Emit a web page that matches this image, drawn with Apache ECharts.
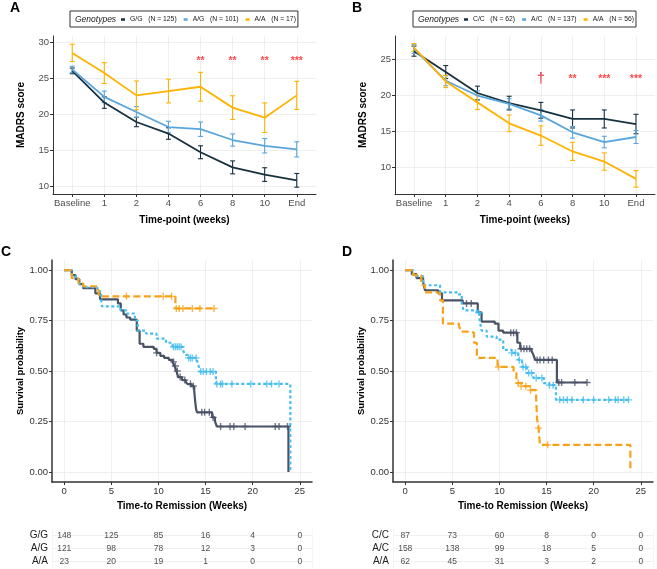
<!DOCTYPE html>
<html>
<head>
<meta charset="utf-8">
<script src="https://cdn.jsdelivr.net/npm/echarts@6/dist/echarts.min.js"></script>
<style>
  html, body { margin: 0; padding: 0; background: #fff; }
  #main { width: 657px; height: 569px; }
</style>
</head>
<body>
<div id="main"></div>
<script>
const FONT = '"Liberation Sans", Arial, sans-serif';

// ---------- A / B : MADRS score by time-point ----------
const timeLabels = ['Baseline', '1', '2', '4', '6', '8', '10', 'End'];

// panel A (G/G, A/G, A/A)
const aGG   = [26.0, 21.6, 18.9, 17.3, 14.7, 12.6, 11.6, 10.8];
const aGGse = [0.4, 0.8, 0.65, 0.8, 0.9, 0.9, 0.95, 0.95];
const aAG   = [26.2, 22.4, 20.3, 18.2, 17.9, 16.4, 15.6, 15.1];
const aAGse = [0.45, 0.8, 0.75, 0.8, 1.0, 0.85, 1.0, 1.05];
const aAA   = [28.5, 25.7, 22.6, 23.2, 23.8, 20.9, 19.5, 22.6];
const aAAse = [1.2, 1.45, 2.0, 1.65, 2.0, 1.65, 2.05, 1.95];
const sigA  = ['', '', '', '', '**', '**', '**', '***'];

// panel B (C/C, A/C, A/A)
const bCC   = [26.1, 23.2, 20.3, 18.9, 17.9, 16.7, 16.7, 16.0];
const bCCse = [0.7, 0.9, 0.95, 0.95, 1.1, 1.25, 1.25, 1.35];
const bAC   = [26.4, 22.0, 19.95, 18.8, 17.2, 14.85, 13.5, 14.2];
const bACse = [0.6, 0.7, 0.65, 0.7, 0.8, 0.8, 0.8, 0.9];
const bAA   = [26.6, 21.9, 19.0, 16.1, 14.4, 12.2, 10.8, 8.4];
const bAAse = [0.55, 0.85, 1.0, 1.15, 1.35, 1.25, 1.2, 1.15];
const sigB  = ['', '', '', '', '\u2020', '**', '***', '***'];

const namesA = ['G/G   (N = 125)', 'A/G   (N = 101)', 'A/A   (N = 17)'];
const namesB = ['C/C   (N = 62)', 'A/C   (N = 137)', 'A/A   (N = 56)'];

// ---------- C / D : Kaplan-Meier, time to remission ----------
const weekTicks = [0, 5, 10, 15, 20, 25];
const survTicks = [0, 0.25, 0.5, 0.75, 1];

// steps: [week, survival after the event]
const cGG = [[0,1],[0.8,0.975],[1.2,0.955],[1.6,0.93],[2.0,0.91],[3.3,0.885],[3.8,0.855],[5.7,0.835],
  [6.0,0.80],[6.3,0.78],[6.6,0.765],[7.0,0.755],[7.7,0.70],[8.0,0.635],[8.4,0.62],[9.5,0.61],[9.8,0.59],
  [10.2,0.575],[10.6,0.565],[11.1,0.555],[11.5,0.545],[11.7,0.525],[11.9,0.50],[12.1,0.47],[12.5,0.455],
  [12.9,0.445],[13.1,0.435],[13.5,0.425],[13.8,0.40],[13.9,0.35],[14.0,0.31],[14.1,0.295],[15.7,0.27],
  [16.0,0.25],[16.2,0.225],[23.8,0]];
const cGGcens = [[9.8,0.59],[11.6,0.545],[11.8,0.525],[12.0,0.50],[12.3,0.47],[12.8,0.455],[13.4,0.435],
  [13.7,0.425],[14.6,0.295],[14.9,0.295],[15.4,0.295],[15.8,0.27],[16.6,0.225],[17.6,0.225],[18.0,0.225],
  [19.2,0.225],[22.4,0.225],[22.8,0.225],[23.7,0.225]];
const cAG = [[0,1],[0.8,0.975],[1.2,0.955],[1.6,0.93],[2.0,0.915],[3.5,0.895],[3.9,0.86],[4.0,0.82],
  [6.0,0.80],[6.6,0.785],[7.5,0.75],[7.8,0.70],[8.7,0.685],[9.8,0.66],[10.8,0.64],[11.5,0.62],
  [12.6,0.605],[12.8,0.58],[13.1,0.565],[14.1,0.55],[14.3,0.52],[14.4,0.497],[16.1,0.436],[24.0,0]];
const cAGcens = [[11.6,0.62],[11.8,0.62],[12.0,0.62],[12.2,0.62],[12.4,0.62],[13.2,0.565],[13.4,0.565],
  [13.6,0.565],[14.0,0.565],[14.5,0.497],[14.75,0.497],[15.1,0.497],[15.5,0.497],[15.8,0.497],[16.2,0.436],
  [16.6,0.436],[16.8,0.436],[17.8,0.436],[19.8,0.436],[21.5,0.436],[22.0,0.436],[22.8,0.436]];
const cAA = [[0,1],[0.8,0.96],[1.5,0.935],[2.0,0.92],[3.6,0.91],[3.7,0.87],[11.8,0.81],[15.9,0.81]];
const cAAcens = [[6.6,0.87],[10.5,0.87],[11.4,0.87],[11.9,0.81],[12.2,0.81],[12.6,0.81],[13.6,0.81],
  [14.4,0.81],[15.9,0.81]];

const dCC = [[0,1],[0.7,0.98],[1.2,0.96],[1.9,0.94],[2.1,0.90],[3.5,0.885],[3.9,0.85],[6.1,0.835],
  [7.7,0.79],[8.1,0.745],[9.5,0.735],[9.9,0.70],[10.4,0.69],[11.9,0.64],[12.2,0.61],[13.4,0.60],
  [13.6,0.58],[13.8,0.555],[16.1,0.443],[19.3,0.443]];
const dCCcens = [[6.5,0.835],[7.0,0.835],[11.2,0.69],[11.5,0.69],[11.8,0.69],[12.3,0.61],[12.6,0.61],
  [12.9,0.61],[13.2,0.61],[14.0,0.555],[14.3,0.555],[14.7,0.555],[15.2,0.555],[15.6,0.555],[16.3,0.443],
  [16.6,0.443],[18.0,0.443],[19.3,0.443]];
const dAC = [[0,1],[0.85,0.97],[1.9,0.925],[3.7,0.89],[5.5,0.88],[6.0,0.835],[6.2,0.80],[7.6,0.79],
  [7.9,0.75],[8.1,0.70],[8.65,0.67],[9.7,0.655],[10.4,0.605],[11.3,0.59],[12.0,0.555],[12.4,0.52],
  [12.9,0.49],[13.6,0.465],[14.7,0.44],[15.3,0.43],[16.0,0.357],[23.9,0.357]];
const dACcens = [[7.8,0.79],[11.3,0.59],[11.7,0.59],[12.1,0.555],[12.5,0.52],[12.8,0.52],[13.1,0.49],
  [13.4,0.49],[13.9,0.465],[14.5,0.465],[15.3,0.43],[15.7,0.43],[16.4,0.357],[16.8,0.357],[17.2,0.357],
  [17.7,0.357],[18.9,0.357],[20.0,0.357],[21.6,0.357],[22.3,0.357],[22.6,0.357],[23.2,0.357],[23.7,0.357]];
const dAA = [[0,1],[0.85,0.975],[1.7,0.925],[2.1,0.89],[3.3,0.885],[3.7,0.85],[4.0,0.735],[5.7,0.725],
  [5.9,0.695],[6.9,0.69],[7.3,0.64],[7.6,0.565],[9.8,0.52],[11.5,0.49],[11.8,0.44],[12.6,0.425],
  [13.3,0.405],[13.9,0.357],[14.0,0.26],[14.15,0.217],[14.3,0.134],[23.9,0]];
const dAAcens = [[9.9,0.52],[12.0,0.44],[12.3,0.425],[12.8,0.425],[13.3,0.405],[14.15,0.217],[15.1,0.134]];

// numbers at risk at weekTicks
const riskRowsC = ['G/G', 'A/G', 'A/A'];
const riskCGG = [148, 125, 85, 16, 4, 0];
const riskCAG = [121, 98, 78, 12, 3, 0];
const riskCAA = [23, 20, 19, 1, 0, 0];
const riskRowsD = ['C/C', 'A/C', 'A/A'];
const riskDCC = [87, 73, 60, 8, 0, 0];
const riskDAC = [158, 138, 99, 18, 5, 0];
const riskDAA = [62, 45, 31, 3, 2, 0];

// colours
const cDark = '#17313F', cBlue = '#5AA5DC', cGold = '#FFB300';
const kDark = '#4A5366', kBlue = '#45BDEF', kGold = '#F7A21B';

const chart = echarts.init(document.getElementById('main'));

const gridLine = { show: true, lineStyle: { color: '#EBEBEB', width: 0.8 } };
const idx8 = timeLabels.map((_, i) => i);

function timeX(g) {
  return {
    type: 'value', gridIndex: g, min: -0.6, max: 7.6,
    axisLine: { show: true, onZero: false, lineStyle: { color: '#333', width: 1 } },
    axisTick: { show: true, length: 3, customValues: idx8, lineStyle: { color: '#333' } },
    axisLabel: { customValues: idx8, formatter: v => timeLabels[v], fontSize: 9.5, color: '#4D4D4D', margin: 4, fontFamily: FONT },
    splitLine: gridLine,
    name: 'Time-point (weeks)', nameLocation: 'middle', nameGap: 21,
    nameTextStyle: { fontWeight: 'bold', fontSize: 10, color: '#000', fontFamily: FONT }
  };
}
function madrsY(g, min, max, ticks) {
  return {
    type: 'value', gridIndex: g, min: min, max: max,
    axisLine: { show: true, onZero: false, lineStyle: { color: '#333', width: 1 } },
    axisTick: { show: true, length: 3, customValues: ticks, lineStyle: { color: '#333' } },
    axisLabel: { customValues: ticks, fontSize: 9.5, color: '#4D4D4D', margin: 4, fontFamily: FONT },
    splitLine: gridLine,
    name: 'MADRS score', nameLocation: 'middle', nameGap: 27,
    nameTextStyle: { fontWeight: 'bold', fontSize: 10, color: '#000', fontFamily: FONT }
  };
}
function weekX(g) {
  return {
    type: 'value', gridIndex: g, min: -1.3, max: 26.3,
    axisLine: { show: true, onZero: false, lineStyle: { color: '#333', width: 1.5 } },
    axisTick: { show: true, length: 3, customValues: weekTicks, lineStyle: { color: '#333' } },
    axisLabel: { customValues: weekTicks, fontSize: 9.5, color: '#333', margin: 4, fontFamily: FONT },
    splitLine: gridLine,
    name: 'Time-to Remission (Weeks)', nameLocation: 'middle', nameGap: 19,
    nameTextStyle: { fontWeight: 'bold', fontSize: 10, color: '#000', fontFamily: FONT }
  };
}
function survY(g) {
  return {
    type: 'value', gridIndex: g, min: -0.05, max: 1.05,
    axisLine: { show: true, onZero: false, lineStyle: { color: '#333', width: 1.5 } },
    axisTick: { show: true, length: 3, customValues: survTicks, lineStyle: { color: '#333' } },
    axisLabel: { customValues: survTicks, formatter: v => v.toFixed(2), fontSize: 9.5, color: '#333', margin: 4, fontFamily: FONT },
    splitLine: gridLine,
    name: 'Survival probability', nameLocation: 'middle', nameGap: 27,
    nameTextStyle: { fontWeight: 'bold', fontSize: 9.5, color: '#000', fontFamily: FONT }
  };
}
function riskX(g) {
  return {
    type: 'value', gridIndex: g, min: -1.3, max: 26.3,
    axisLine: { show: false }, axisTick: { show: false }, axisLabel: { show: false },
    splitLine: { show: true, lineStyle: { color: '#F2F2F2', width: 0.8 } }
  };
}
function riskY(g, rows) {
  return {
    type: 'value', gridIndex: g, min: -0.5, max: 2.5, inverse: true,
    axisLine: { show: false }, axisTick: { show: false, customValues: [0, 1, 2] },
    axisLabel: { customValues: [0, 1, 2], formatter: v => rows[v], fontSize: 10, color: '#222', margin: 4, fontFamily: FONT },
    splitLine: { show: true, lineStyle: { color: '#EBEBEB', width: 0.8 } }
  };
}

function meanLine(g, name, vals, color) {
  return {
    type: 'line', name: name, xAxisIndex: g, yAxisIndex: g,
    data: vals.map((v, i) => [i, v]), showSymbol: false, symbol: 'none',
    lineStyle: { color: color, width: 1.8 }, itemStyle: { color: color }, z: 3
  };
}
function errorBars(g, vals, se, color) {
  return {
    type: 'custom', xAxisIndex: g, yAxisIndex: g,
    data: vals.map((v, i) => [i, v - se[i], v + se[i]]),
    encode: { x: 0, y: [1, 2] },
    renderItem: (params, api) => {
      const lo = api.coord([api.value(0), api.value(1)]);
      const hi = api.coord([api.value(0), api.value(2)]);
      const w = 2.5, st = { stroke: color, lineWidth: 1.1 };
      return { type: 'group', children: [
        { type: 'line', shape: { x1: lo[0], y1: lo[1], x2: hi[0], y2: hi[1] }, style: st },
        { type: 'line', shape: { x1: lo[0] - w, y1: lo[1], x2: lo[0] + w, y2: lo[1] }, style: st },
        { type: 'line', shape: { x1: hi[0] - w, y1: hi[1], x2: hi[0] + w, y2: hi[1] }, style: st }
      ]};
    },
    z: 3
  };
}
function sigMarks(g, marks, yv) {
  return {
    type: 'scatter', xAxisIndex: g, yAxisIndex: g, symbolSize: 0, silent: true,
    data: marks.map((m, i) => [i, yv, m]).filter(d => d[2] !== ''),
    label: { show: true, position: 'inside',
      formatter: p => p.value[2] === '\u2020' ? '{d|\u2020}' : p.value[2],
      color: '#FF1A1A', fontSize: 10.5, fontFamily: FONT, fontWeight: 'bold',
      rich: { d: { fontSize: 14, color: '#E8182E', fontFamily: FONT, fontWeight: 'bold' } } }
  };
}
function kmLine(g, pts, color, dash) {
  return {
    type: 'line', xAxisIndex: g, yAxisIndex: g, data: pts, step: 'end',
    showSymbol: false, symbol: 'none', silent: true,
    lineStyle: { color: color, width: 2.2, type: dash }, z: 3
  };
}
const plus = 'path://M4,0H6V4H10V6H6V10H4V6H0V4H4Z';
function kmCens(g, pts, color) {
  return {
    type: 'scatter', xAxisIndex: g, yAxisIndex: g, data: pts, symbol: plus, symbolSize: 7,
    itemStyle: { color: color }, silent: true, z: 4
  };
}
function riskRow(g, row, vals) {
  return {
    type: 'scatter', xAxisIndex: g, yAxisIndex: g, symbolSize: 0, silent: true,
    data: weekTicks.map((w, i) => [w, row, vals[i]]),
    label: { show: true, position: 'inside', formatter: p => String(p.value[2]), color: '#222',
      fontSize: 8.5, fontFamily: FONT }
  };
}
function legendBox(left, names) {
  return {
    data: names, left: left, top: 11, orient: 'horizontal',
    padding: [5, 2, 4, 51], itemWidth: 4, itemHeight: 2.5, itemGap: 7, icon: 'rect',
    borderColor: '#333', borderWidth: 1, selectedMode: false,
    textStyle: { fontSize: 6.8, color: '#1A1A1A', fontFamily: FONT }
  };
}

const option = {
  animation: false,
  backgroundColor: '#fff',
  title: [
    { text: 'A', left: 10, top: 1, padding: 0, textStyle: { fontSize: 14, fontWeight: 'bold', color: '#000', fontFamily: FONT } },
    { text: 'B', left: 352, top: 1, padding: 0, textStyle: { fontSize: 14, fontWeight: 'bold', color: '#000', fontFamily: FONT } },
    { text: 'C', left: 1, top: 245, padding: 0, textStyle: { fontSize: 14, fontWeight: 'bold', color: '#000', fontFamily: FONT } },
    { text: 'D', left: 342, top: 245, padding: 0, textStyle: { fontSize: 14, fontWeight: 'bold', color: '#000', fontFamily: FONT } }
  ],
  legend: [legendBox(70, namesA), legendBox(413, namesB)],
  graphic: [
    { type: 'text', left: 75, top: 15, style: { text: 'Genotypes', fontSize: 8.5, fontStyle: 'italic', fill: '#1A1A1A', fontFamily: FONT } },
    { type: 'text', left: 418, top: 15, style: { text: 'Genotypes', fontSize: 8.5, fontStyle: 'italic', fill: '#1A1A1A', fontFamily: FONT } }
  ],
  grid: [
    { left: 53, right: 341, top: 36, bottom: 375 },
    { left: 395, right: 2, top: 36, bottom: 375 },
    { left: 52, right: 345, top: 260, bottom: 87 },
    { left: 393, right: 4, top: 260, bottom: 87 },
    { left: 52, right: 345, top: 529, bottom: 1 },
    { left: 393, right: 4, top: 529, bottom: 1 }
  ],
  xAxis: [timeX(0), timeX(1), weekX(2), weekX(3), riskX(4), riskX(5)],
  yAxis: [
    madrsY(0, 8.9, 30.85, [10, 15, 20, 25, 30]),
    madrsY(1, 6.3, 28.2, [10, 15, 20, 25]),
    survY(2), survY(3), riskY(4, riskRowsC), riskY(5, riskRowsD)
  ],
  series: [
    errorBars(0, aGG, aGGse, cDark), errorBars(0, aAG, aAGse, cBlue), errorBars(0, aAA, aAAse, cGold),
    meanLine(0, namesA[0], aGG, cDark), meanLine(0, namesA[1], aAG, cBlue), meanLine(0, namesA[2], aAA, cGold),
    sigMarks(0, sigA, 27.3),
    errorBars(1, bCC, bCCse, cDark), errorBars(1, bAC, bACse, cBlue), errorBars(1, bAA, bAAse, cGold),
    meanLine(1, namesB[0], bCC, cDark), meanLine(1, namesB[1], bAC, cBlue), meanLine(1, namesB[2], bAA, cGold),
    sigMarks(1, sigB, 22.2),
    kmLine(2, cGG, kDark, 'solid'), kmLine(2, cAG, kBlue, [3, 2.5]), kmLine(2, cAA, kGold, [7, 3.5]),
    kmCens(2, cGGcens, kDark), kmCens(2, cAGcens, kBlue), kmCens(2, cAAcens, kGold),
    kmLine(3, dCC, kDark, 'solid'), kmLine(3, dAC, kBlue, [3, 2.5]), kmLine(3, dAA, kGold, [7, 3.5]),
    kmCens(3, dCCcens, kDark), kmCens(3, dACcens, kBlue), kmCens(3, dAAcens, kGold),
    riskRow(4, 0, riskCGG), riskRow(4, 1, riskCAG), riskRow(4, 2, riskCAA),
    riskRow(5, 0, riskDCC), riskRow(5, 1, riskDAC), riskRow(5, 2, riskDAA)
  ]
};

chart.setOption(option);
</script>
</body>
</html>
